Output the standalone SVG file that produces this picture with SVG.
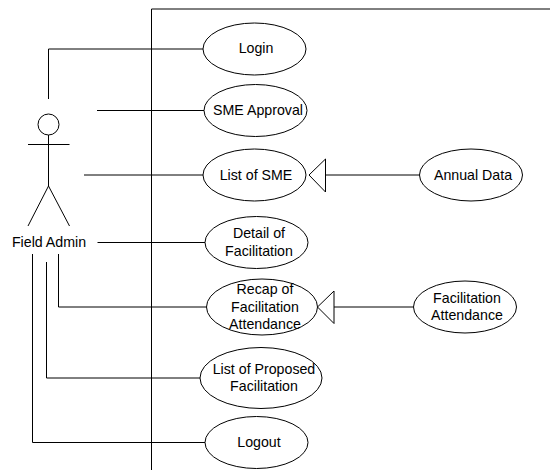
<svg xmlns="http://www.w3.org/2000/svg" width="550" height="470" viewBox="0 0 550 470">
<style>
text{font-family:"Liberation Sans",Arial,sans-serif;font-size:14.2px;fill:#000;text-anchor:middle}
.l{fill:none;stroke:#000;stroke-width:1}
.e{fill:#fff;stroke:#000;stroke-width:1}
.n{fill:none;stroke:#000;stroke-width:1}
.t{fill:#fff;stroke:#000;stroke-width:1}
</style>
<rect width="550" height="470" fill="#fff"/>
<g id="boundary"><path class="l" d="M550 9H151.500V470"/></g>
<g id="connectors">
<path class="l" d="M48.500 99V49H203"/>
<path class="l" d="M97 110.500H204"/>
<path class="l" d="M84 175H203"/>
<path class="l" d="M97.500 242.500H205"/>
<path class="l" d="M58.500 254V307H206.500"/>
<path class="l" d="M46.500 262V378H200.500"/>
<path class="l" d="M32.500 254V442.500H205"/>
<path class="l" d="M325.500 175H419.500"/>
<path class="l" d="M334 307H413.500"/>
<polygon class="t" points="309,175 325.500,159 325.500,192"/>
<polygon class="t" points="317.500,307 334,291 334,323.500"/>
</g>
<g id="actor">
<circle class="n" cx="48.500" cy="124.500" r="10.500"/>
<path class="n" d="M48.500 135V186M28 144.500H69.500M28 226L48.500 186L69.500 226"/>
<text x="49" y="247">Field Admin</text>
</g>
<g id="login"><ellipse class="e" cx="254.500" cy="49" rx="51.500" ry="26"/><text x="256" y="53">Login</text></g>
<g id="sme-approval"><ellipse class="e" cx="255.500" cy="110.500" rx="51.500" ry="26"/><text x="258" y="115">SME Approval</text></g>
<g id="list-of-sme"><ellipse class="e" cx="254.500" cy="175" rx="51.500" ry="26"/><text x="256" y="180">List of SME</text></g>
<g id="detail"><ellipse class="e" cx="256.500" cy="242.500" rx="51.500" ry="26"/><text x="259" y="238">Detail of</text><text x="259" y="256">Facilitation</text></g>
<g id="recap"><ellipse class="e" cx="262" cy="307" rx="55.500" ry="28"/><text x="265" y="294">Recap of</text><text x="265" y="312">Facilitation</text><text x="265" y="329">Attendance</text></g>
<g id="proposed"><ellipse class="e" cx="261" cy="378" rx="61" ry="30.500"/><text x="264" y="374">List of Proposed</text><text x="264" y="391">Facilitation</text></g>
<g id="logout"><ellipse class="e" cx="256.500" cy="442.500" rx="51.500" ry="26"/><text x="259" y="447">Logout</text></g>
<g id="annual"><ellipse class="e" cx="471" cy="175" rx="51.500" ry="26"/><text x="473" y="180">Annual Data</text></g>
<g id="fac-att"><ellipse class="e" cx="465" cy="307" rx="51.500" ry="26"/><text x="467" y="303">Facilitation</text><text x="467" y="320">Attendance</text></g>
</svg>
